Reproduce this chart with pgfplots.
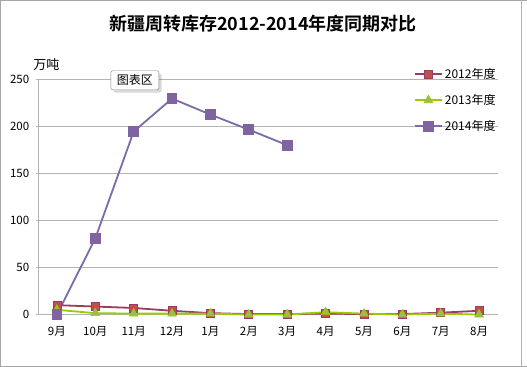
\documentclass[border=0pt]{standalone}
\usepackage{pgfplots}
\pgfplotsset{compat=1.18}
\usepackage{fontspec}
\setmainfont{Noto Sans CJK SC}
\newfontfamily\titlefont{Noto Sans CJK SC Bold}
\usetikzlibrary{shadows}
\definecolor{c12line}{HTML}{9B3A62}
\definecolor{c12fill}{HTML}{C0504D}
\definecolor{c13line}{HTML}{99CC00}
\definecolor{c13fill}{HTML}{9BBB59}
\definecolor{c14line}{HTML}{7B6BA8}
\definecolor{c14fill}{HTML}{8064A2}
\definecolor{gridgray}{HTML}{B4B4B4}
\begin{document}
\begin{tikzpicture}[x=1pt,y=1pt]
\draw[fill=white,draw=gray!70] (0.5,0.5) rectangle (526.5,365.5);
\draw[gray!60] (521,0) -- (521,366);
\node[font=\titlefont\fontsize{18}{21}\selectfont] at (263,343) {新疆周转库存2012-2014年度同期对比};
\node[font=\fontsize{13}{15}\selectfont,anchor=west] at (30,302) {万吨};
\begin{axis}[
  at={(38pt,52pt)}, anchor=south west,
  scale only axis, width=460pt, height=235pt,
  xmin=-0.5, xmax=11.5, ymin=0, ymax=250,
  xtick={0,...,11},
  xticklabels={9月,10月,11月,12月,1月,2月,3月,4月,5月,6月,7月,8月},
  ytick={0,50,100,150,200,250},
  axis x line=bottom, axis y line=left,
  axis line style={gridgray,-},
  ymajorgrids, grid style={gridgray},
  tick style={gridgray},
  major tick length=4pt,
  xtick style={draw=none},
  tick label style={font=\fontsize{11.5}{13}\selectfont},
  /pgf/number format/assume math mode=true,
  xticklabel style={yshift=-6pt},
  yticklabel style={xshift=-3pt},
  clip=false,
  legend style={at={(0.81,1.065)}, anchor=north west, draw=none, fill=none,
    font=\fontsize{12}{13}\selectfont, row sep=10.5pt,
    /tikz/every even column/.append style={column sep=2pt}},
  legend cell align=left,
  legend image code/.code={
    \draw[#1,mark=none] (0cm,0cm) -- (0.95cm,0cm);
    \draw[#1,only marks] plot coordinates {(0.475cm,0cm)};
  },
]
\addplot[c12line, line width=1.8pt, mark=square*, mark size=4pt,
  mark options={fill=c12fill, draw=c12line, line width=0.8pt}]
  coordinates {(0,10) (1,8.5) (2,7) (3,4) (4,1.5) (5,0.5) (6,0.5) (7,1) (8,0.5) (9,0.5) (10,2) (11,4)};
\addlegendentry{2012年度}
\addplot[c13line, line width=1.8pt, mark=triangle*, mark size=5pt,
  mark options={fill=c13fill, draw=c13line, line width=0.6pt}]
  coordinates {(0,5) (1,1.5) (2,1) (3,1) (4,1) (5,0) (6,0) (7,2.5) (8,1) (9,0) (10,1) (11,0)};
\addlegendentry{2013年度}
\addplot[c14line, line width=1.8pt, mark=square*, mark size=4.5pt,
  mark options={fill=c14fill, draw=c14fill}]
  coordinates {(0,0) (1,81) (2,194.5) (3,229.5) (4,212.5) (5,196.5) (6,180)};
\addlegendentry{2014年度}
\end{axis}
\node[draw=gray, rounded corners=2pt, fill=white, drop shadow={opacity=0.3},
  minimum width=48pt, minimum height=19pt,
  inner sep=2pt, font=\fontsize{12}{14}\selectfont] at (135,286) {图表区};
\end{tikzpicture}
\end{document}
